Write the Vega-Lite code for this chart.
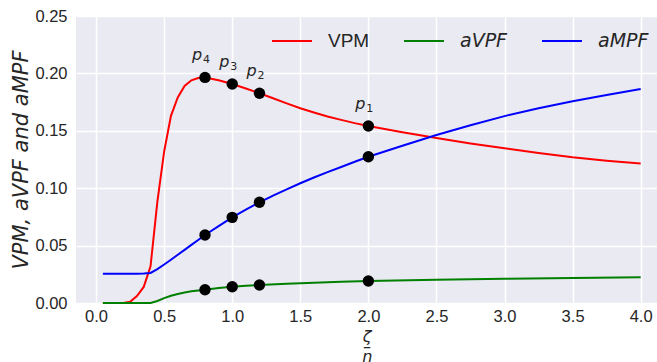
{
  "$schema": "https://vega.github.io/schema/vega-lite/v6.json",
  "width": 581,
  "height": 287,
  "autosize": {"type": "none"},
  "padding": {"left": 76, "top": 16, "right": 0, "bottom": 59},
  "background": "white",
  "config": {
    "view": {"fill": "#EAEAF2", "stroke": null},
    "font": "DejaVu Sans",
    "axis": {
      "domain": false,
      "ticks": false,
      "gridColor": "white",
      "gridWidth": 1.5,
      "labelFont": "Liberation Sans",
      "labelFontSize": 16.5,
      "labelColor": "#262626",
      "titleColor": "#262626",
      "titleFont": "DejaVu Sans",
      "titleFontWeight": "normal"
    }
  },
  "datasets": {
    "curves": [
      {"x": 0.05, "y": 0, "s": "VPM"}, {"x": 0.1, "y": 0, "s": "VPM"}, {"x": 0.15, "y": 0, "s": "VPM"}, {"x": 0.2, "y": 0, "s": "VPM"},
      {"x": 0.25, "y": 0.001, "s": "VPM"}, {"x": 0.3, "y": 0.006, "s": "VPM"}, {"x": 0.35, "y": 0.014, "s": "VPM"}, {"x": 0.4, "y": 0.032, "s": "VPM"},
      {"x": 0.45, "y": 0.088, "s": "VPM"}, {"x": 0.5, "y": 0.132, "s": "VPM"}, {"x": 0.55, "y": 0.163, "s": "VPM"}, {"x": 0.6, "y": 0.179, "s": "VPM"},
      {"x": 0.65, "y": 0.189, "s": "VPM"}, {"x": 0.7, "y": 0.194, "s": "VPM"}, {"x": 0.75, "y": 0.196, "s": "VPM"}, {"x": 0.8, "y": 0.1965, "s": "VPM"},
      {"x": 0.9, "y": 0.1941, "s": "VPM"}, {"x": 1.0, "y": 0.1908, "s": "VPM"}, {"x": 1.1, "y": 0.1869, "s": "VPM"}, {"x": 1.2, "y": 0.1827, "s": "VPM"},
      {"x": 1.3, "y": 0.1783, "s": "VPM"}, {"x": 1.4, "y": 0.1739, "s": "VPM"}, {"x": 1.5, "y": 0.1696, "s": "VPM"}, {"x": 1.6, "y": 0.166, "s": "VPM"},
      {"x": 1.7, "y": 0.1625, "s": "VPM"}, {"x": 1.8, "y": 0.1595, "s": "VPM"}, {"x": 1.9, "y": 0.1567, "s": "VPM"}, {"x": 2.0, "y": 0.1542, "s": "VPM"},
      {"x": 2.25, "y": 0.1488, "s": "VPM"}, {"x": 2.5, "y": 0.1437, "s": "VPM"}, {"x": 2.75, "y": 0.139, "s": "VPM"}, {"x": 3.0, "y": 0.1347, "s": "VPM"},
      {"x": 3.25, "y": 0.1307, "s": "VPM"}, {"x": 3.5, "y": 0.127, "s": "VPM"}, {"x": 3.75, "y": 0.124, "s": "VPM"}, {"x": 4.0, "y": 0.1215, "s": "VPM"},

      {"x": 0.05, "y": 0, "s": "aVPF"}, {"x": 0.1, "y": 0, "s": "aVPF"}, {"x": 0.15, "y": 0, "s": "aVPF"}, {"x": 0.2, "y": 0, "s": "aVPF"},
      {"x": 0.25, "y": 0, "s": "aVPF"}, {"x": 0.3, "y": 0, "s": "aVPF"}, {"x": 0.35, "y": 0, "s": "aVPF"}, {"x": 0.4, "y": 0, "s": "aVPF"},
      {"x": 0.45, "y": 0.0018, "s": "aVPF"}, {"x": 0.5, "y": 0.0042, "s": "aVPF"}, {"x": 0.55, "y": 0.0063, "s": "aVPF"}, {"x": 0.6, "y": 0.0079, "s": "aVPF"},
      {"x": 0.65, "y": 0.0092, "s": "aVPF"}, {"x": 0.7, "y": 0.0102, "s": "aVPF"}, {"x": 0.75, "y": 0.0109, "s": "aVPF"}, {"x": 0.8, "y": 0.0115, "s": "aVPF"},
      {"x": 0.9, "y": 0.013, "s": "aVPF"}, {"x": 1.0, "y": 0.0142, "s": "aVPF"}, {"x": 1.1, "y": 0.015, "s": "aVPF"}, {"x": 1.2, "y": 0.0157, "s": "aVPF"},
      {"x": 1.4, "y": 0.0168, "s": "aVPF"}, {"x": 1.6, "y": 0.0177, "s": "aVPF"}, {"x": 1.8, "y": 0.0185, "s": "aVPF"}, {"x": 2.0, "y": 0.0192, "s": "aVPF"},
      {"x": 2.5, "y": 0.0203, "s": "aVPF"}, {"x": 3.0, "y": 0.0211, "s": "aVPF"}, {"x": 3.5, "y": 0.0218, "s": "aVPF"}, {"x": 4.0, "y": 0.0224, "s": "aVPF"},

      {"x": 0.05, "y": 0.0255, "s": "aMPF"}, {"x": 0.1, "y": 0.0255, "s": "aMPF"}, {"x": 0.15, "y": 0.0255, "s": "aMPF"}, {"x": 0.2, "y": 0.0255, "s": "aMPF"},
      {"x": 0.25, "y": 0.0255, "s": "aMPF"}, {"x": 0.3, "y": 0.0255, "s": "aMPF"}, {"x": 0.35, "y": 0.0256, "s": "aMPF"}, {"x": 0.4, "y": 0.0262, "s": "aMPF"},
      {"x": 0.45, "y": 0.0295, "s": "aMPF"}, {"x": 0.5, "y": 0.0335, "s": "aMPF"}, {"x": 0.55, "y": 0.0377, "s": "aMPF"}, {"x": 0.6, "y": 0.042, "s": "aMPF"},
      {"x": 0.65, "y": 0.0463, "s": "aMPF"}, {"x": 0.7, "y": 0.0506, "s": "aMPF"}, {"x": 0.75, "y": 0.0549, "s": "aMPF"}, {"x": 0.8, "y": 0.0592, "s": "aMPF"},
      {"x": 0.9, "y": 0.067, "s": "aMPF"}, {"x": 1.0, "y": 0.0746, "s": "aMPF"}, {"x": 1.1, "y": 0.0813, "s": "aMPF"}, {"x": 1.2, "y": 0.0877, "s": "aMPF"},
      {"x": 1.3, "y": 0.0935, "s": "aMPF"}, {"x": 1.4, "y": 0.099, "s": "aMPF"}, {"x": 1.5, "y": 0.1043, "s": "aMPF"}, {"x": 1.6, "y": 0.1093, "s": "aMPF"},
      {"x": 1.7, "y": 0.114, "s": "aMPF"}, {"x": 1.8, "y": 0.1185, "s": "aMPF"}, {"x": 1.9, "y": 0.123, "s": "aMPF"}, {"x": 2.0, "y": 0.1274, "s": "aMPF"},
      {"x": 2.25, "y": 0.137, "s": "aMPF"}, {"x": 2.5, "y": 0.1463, "s": "aMPF"}, {"x": 2.75, "y": 0.1548, "s": "aMPF"}, {"x": 3.0, "y": 0.1628, "s": "aMPF"},
      {"x": 3.25, "y": 0.1697, "s": "aMPF"}, {"x": 3.5, "y": 0.1757, "s": "aMPF"}, {"x": 3.75, "y": 0.1812, "s": "aMPF"}, {"x": 4.0, "y": 0.1864, "s": "aMPF"}
    ],
    "dots": [
      {"x": 0.8, "y": 0.1965}, {"x": 1.0, "y": 0.1908}, {"x": 1.2, "y": 0.1827}, {"x": 2.0, "y": 0.1542},
      {"x": 0.8, "y": 0.0115}, {"x": 1.0, "y": 0.0142}, {"x": 1.2, "y": 0.0157}, {"x": 2.0, "y": 0.0192},
      {"x": 0.8, "y": 0.0592}, {"x": 1.0, "y": 0.0746}, {"x": 1.2, "y": 0.0877}, {"x": 2.0, "y": 0.1274}
    ],
    "labels": [
      {"x": 0.8, "y": 0.1965, "n": "4"}, {"x": 1.0, "y": 0.1908, "n": "3"}, {"x": 1.2, "y": 0.1827, "n": "2"}, {"x": 2.0, "y": 0.1542, "n": "1"}
    ]
  },
  "encoding": {
    "x": {
      "field": "x", "type": "quantitative",
      "scale": {"domain": [-0.1475, 4.12], "nice": false, "zero": false},
      "axis": {
        "values": [0, 0.5, 1, 1.5, 2, 2.5, 3, 3.5, 4],
        "format": ".1f",
        "labelPadding": 5,
        "title": ["ζ", "–", "η"],
        "titleFontStyle": "italic",
        "titleFontSize": 16,
        "titleLineHeight": 10,
        "titleBaseline": "top",
        "titleY": 25
      }
    },
    "y": {
      "field": "y", "type": "quantitative",
      "scale": {"domain": [0, 0.25], "nice": false},
      "axis": {
        "values": [0, 0.05, 0.1, 0.15, 0.2, 0.25],
        "format": ".2f",
        "labelPadding": 9,
        "title": "VPM, aVPF and aMPF",
        "titleFontStyle": "italic",
        "titleFontSize": 21,
        "titleBaseline": "alphabetic",
        "titleX": -49
      }
    }
  },
  "layer": [
    {
      "data": {"name": "curves"},
      "mark": {"type": "line", "strokeWidth": 2},
      "encoding": {
        "color": {
          "field": "s", "type": "nominal",
          "scale": {"domain": ["VPM", "aVPF", "aMPF"], "range": ["#FF0000", "#008000", "#0000FF"]},
          "legend": {
            "orient": "none",
            "legendX": 195,
            "legendY": 4,
            "direction": "horizontal",
            "title": null,
            "symbolType": "stroke",
            "symbolSize": 1600,
            "symbolStrokeWidth": 2,
            "labelFontSize": 19,
            "labelColor": "#262626",
            "labelOffset": 15,
            "columnPadding": 30,
            "padding": 0,
            "labelFont": {"expr": "datum.label == 'VPM' ? 'Liberation Sans' : 'DejaVu Sans'"},
            "labelFontStyle": {"expr": "datum.label == 'VPM' ? 'normal' : 'italic'"}
          }
        }
      }
    },
    {
      "data": {"name": "dots"},
      "mark": {"type": "circle", "size": 130, "color": "black", "opacity": 1}
    },
    {
      "data": {"name": "labels"},
      "mark": {"type": "text", "text": "p", "fontStyle": "italic", "fontSize": 16, "dx": -8, "dy": -17, "baseline": "alphabetic", "align": "center", "color": "#262626"}
    },
    {
      "data": {"name": "labels"},
      "mark": {"type": "text", "fontSize": 11, "dx": 1.5, "dy": -14, "baseline": "alphabetic", "align": "center", "color": "#262626"},
      "encoding": {"text": {"field": "n", "type": "nominal"}}
    }
  ]
}
